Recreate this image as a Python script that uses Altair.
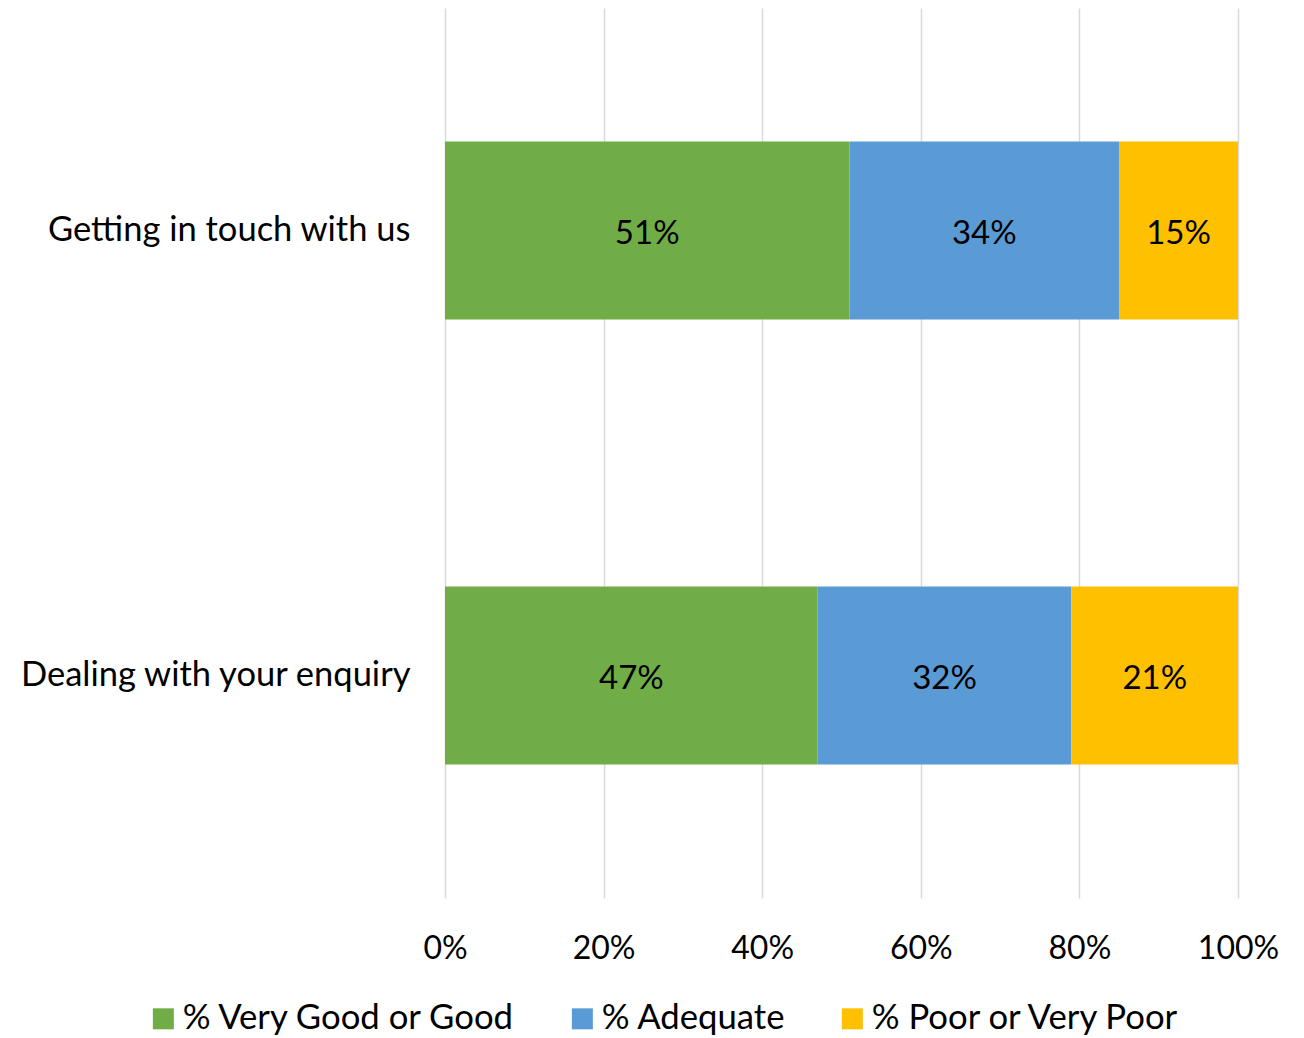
import altair as alt
import pandas as pd

categories = ["Getting in touch with us", "Dealing with your enquiry"]
series = ["% Very Good or Good", "% Adequate", "% Poor or Very Poor"]
values = {
    "% Very Good or Good": [51, 47],
    "% Adequate": [34, 32],
    "% Poor or Very Poor": [15, 21],
}
colors = ["#70AD47", "#5B9BD5", "#FFC000"]

rows = []
for si, s in enumerate(series):
    for ci, c in enumerate(categories):
        rows.append({"category": c, "series": s, "order": si, "value": values[s][ci]})
df = pd.DataFrame(rows)

FONT = "Lato"

base = alt.Chart(df).transform_stack(
    stack="value", groupby=["category"], as_=["start", "end"],
    sort=[alt.SortField("order", order="ascending")]
).transform_calculate(
    mid="(datum.start + datum.end) / 2",
    label="datum.value + '%'"
)

y_enc = alt.Y("category:N", sort=categories, title=None,
              scale=alt.Scale(paddingInner=0.6, paddingOuter=0.3),
              axis=alt.Axis(labelFontSize=34.5, labelFont=FONT, labelColor="#000000",
                            labelPadding=35, ticks=False, domain=False, grid=False,
                            labelLimit=600))

bars = base.mark_bar().encode(
    x=alt.X("start:Q", title=None,
            scale=alt.Scale(domain=[0, 100], nice=False),
            axis=alt.Axis(values=[0, 20, 40, 60, 80, 100], labelExpr="datum.value + '%'",
                          labelFontSize=32, labelFont=FONT, labelColor="#000000",
                          labelPadding=35, labelFlush=False, ticks=False, domain=False,
                          grid=True, gridColor="#D9D9D9", gridWidth=1.5)),
    x2="end:Q",
    y=y_enc,
    color=alt.Color("series:N", sort=series,
                    scale=alt.Scale(domain=series, range=colors),
                    legend=alt.Legend(title=None, orient="none", direction="horizontal",
                                      legendX=-299, legendY=993,
                                      symbolType="square", symbolSize=441,
                                      symbolStrokeWidth=0, symbolOpacity=1,
                                      labelFontSize=34.7, labelFont=FONT, labelColor="#000000",
                                      columnPadding=49, labelOffset=2, labelLimit=600)),
)

text = base.mark_text(fontSize=33, font=FONT, color="#000000", dy=3).encode(
    x=alt.X("mid:Q"),
    y=alt.Y("category:N", sort=categories),
    text="label:N",
)

chart = (bars + text).properties(
    width=793, height=890,
    background="#ffffff",
    autosize=alt.AutoSizeParams(type="none"),
    padding={"left": 445, "top": 8, "right": 66, "bottom": 140},
).configure_view(strokeWidth=0, stroke="transparent").configure_axis(
    domain=False, ticks=False
)

chart.save("out.html", embed_options={"renderer": "svg", "actions": False})
